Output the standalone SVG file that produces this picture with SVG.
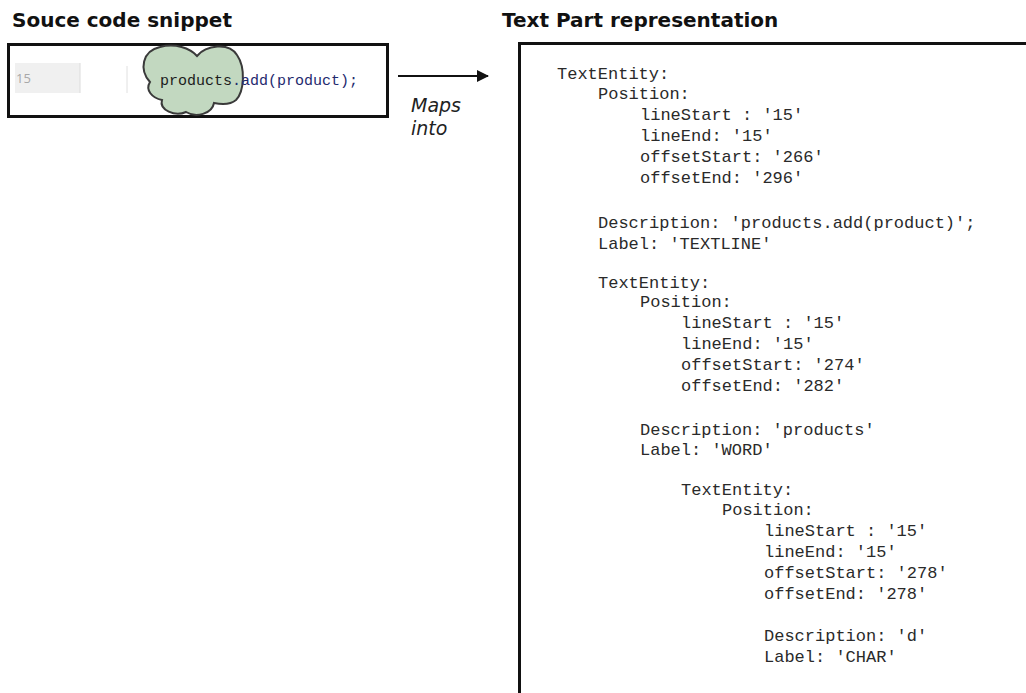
<svg xmlns="http://www.w3.org/2000/svg" width="1026" height="693" viewBox="0 0 1026 693">
  <defs>
    <style>
      .title { font-family: "DejaVu Sans", Verdana, sans-serif; font-weight: bold; font-size: 20px; fill: #111; }
      .frame { fill: #fff; stroke: #111; stroke-width: 3; }
      .code { font-family: "Liberation Mono", "DejaVu Sans Mono", monospace; font-size: 15px; }
      .yaml { font-family: "Liberation Mono", "Courier New", monospace; font-size: 17px; fill: #2a2a2a; }
      .note { font-family: "DejaVu Sans", Verdana, sans-serif; font-style: italic; font-size: 19px; fill: #222; }
    </style>
    <marker id="arrowhead" markerWidth="12" markerHeight="12" refX="11" refY="6" orient="auto" markerUnits="userSpaceOnUse">
      <path d="M0,0 L12,6 L0,12 Z" fill="#111"/>
    </marker>
  </defs>

  <rect width="1026" height="693" fill="#fff"/>

  <!-- Headings -->
  <text class="title" x="12" y="27">Souce code snippet</text>
  <text class="title" x="502" y="27">Text Part representation</text>

  <!-- Source snippet panel -->
  <g id="source-snippet">
    <rect class="frame" x="8.5" y="44.5" width="379" height="72"/>
    <rect x="15" y="63" width="65" height="30" fill="#f0f0f0"/>
    <line x1="80" y1="63" x2="80" y2="93" stroke="#dcdcdc" stroke-width="1"/>
    <text x="16" y="83" font-family="'Open Sans', 'DejaVu Sans', sans-serif" font-size="13" fill="#a8a8a8">15</text>
    <line x1="127" y1="66" x2="127" y2="93" stroke="#e0e0e0" stroke-width="1"/>
    <!-- highlight cloud around the word -->
    <path d="M150,82 C139,70 142,51 160,47 C175,43 190,48 197,56 C206,45 229,42 237,55 C246,68 244,92 236,100 C229,106 219,104 214,103 C212,114 196,118 186,112 C175,117 159,110 162,100 C152,98 145,90 150,82 Z" fill="#c2d8c0" stroke="#3a3a3a" stroke-width="2"/>
    <text class="code" x="160" y="85"><tspan fill="#1c1c1c">products</tspan><tspan fill="#1f2a6e">.add(product);</tspan></text>
  </g>

  <!-- Mapping connector -->
  <g id="connectors">
    <line x1="398" y1="76" x2="488" y2="76" stroke="#111" stroke-width="2" marker-end="url(#arrowhead)"/>
    <text class="note" x="411" y="112">Maps</text>
    <text class="note" x="411" y="135">into</text>
  </g>

  <!-- Text part representation panel -->
  <g id="text-part">
    <rect class="frame" x="519.5" y="43.5" width="620" height="700"/>
    <g class="yaml">
      <text x="557" y="79">TextEntity:</text>
      <text x="598" y="99">Position:</text>
      <text x="640" y="120">lineStart : '15'</text>
      <text x="640" y="141">lineEnd: '15'</text>
      <text x="640" y="162">offsetStart: '266'</text>
      <text x="640" y="183">offsetEnd: '296'</text>
      <text x="598" y="228">Description: 'products.add(product)';</text>
      <text x="598" y="249">Label: 'TEXTLINE'</text>

      <text x="598" y="288">TextEntity:</text>
      <text x="640" y="307">Position:</text>
      <text x="681" y="328">lineStart : '15'</text>
      <text x="681" y="349">lineEnd: '15'</text>
      <text x="681" y="370">offsetStart: '274'</text>
      <text x="681" y="391">offsetEnd: '282'</text>
      <text x="640" y="435">Description: 'products'</text>
      <text x="640" y="455">Label: 'WORD'</text>

      <text x="681" y="495">TextEntity:</text>
      <text x="722" y="515">Position:</text>
      <text x="764" y="536">lineStart : '15'</text>
      <text x="764" y="557">lineEnd: '15'</text>
      <text x="764" y="578">offsetStart: '278'</text>
      <text x="764" y="599">offsetEnd: '278'</text>
      <text x="764" y="641">Description: 'd'</text>
      <text x="764" y="662">Label: 'CHAR'</text>
    </g>
  </g>
</svg>
